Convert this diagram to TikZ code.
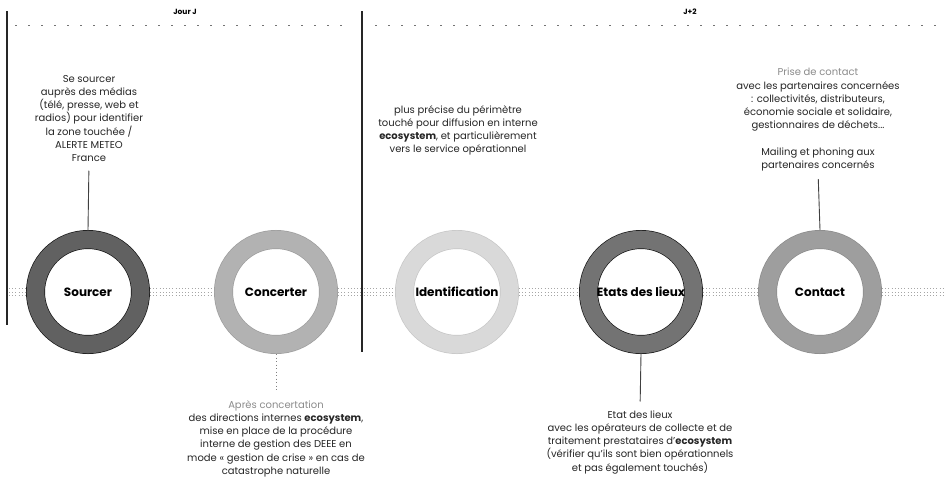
\documentclass[tikz,border=0pt]{standalone}
\usepackage{fontspec}
\setmainfont{Poppins}
\begin{document}
\begin{tikzpicture}[x=1pt,y=-1pt,
  ring/.style={circle, minimum size=105pt, inner sep=0pt, outer sep=9.5pt,
    line width=0.7pt, double distance=17.6pt, font=\fontsize{12}{14}\selectfont\bfseries},
  desc/.style={align=center, inner sep=0pt, font=\fontsize{10}{13.2}\selectfont, text=black!85},
  conn/.style={draw=black!75, line width=0.9pt},
  dconn/.style={draw=black!50, line width=0.9pt, dash pattern=on 1pt off 2.5pt},
  flow/.style={draw=black!35, line width=1pt, dash pattern=on 1pt off 2.2pt},
  vline/.style={draw=black!85, line width=1.2pt},
  topdots/.style={draw=black!55, line width=0.7pt, dash pattern=on 2pt off 11pt},
  daytitle/.style={font=\fontsize{7.5}{8}\selectfont\bfseries, inner sep=0pt},
  soft/.style={text=black!45}
]
\useasboundingbox (0,0) rectangle (950,479);
\fill[white] (0,0) rectangle (950,479);

% day headers
\node[daytitle] (jourj) at (185,12) {Jour J};
\node[daytitle] (j2) at (690,12) {J+2};
\draw[topdots] (15,25) -- (345,25);
\draw[topdots] (375,25) -- (945,25);

% separators
\draw[vline] (7,11) -- (7,325);
\draw[vline] (362,11) -- (362,352);

% rings
\node[ring, draw=black!90, double=black!62] (sourcer) at (88,292) {Sourcer};
\node[ring, draw=black!38, double=black!30] (concerter) at (276,292) {Concerter};
\node[ring, draw=black!22, double=black!15] (ident) at (457,292) {Identification};
\node[ring, draw=black!90, double=black!55] (etats) at (641,292) {Etats des lieux};
\node[ring, draw=black!45, double=black!38] (contact) at (820,292) {Contact};

% flow between rings
\coordinate (fstart) at (9,292);
\coordinate (fend) at (945,292);
\foreach \s in {-3.5,0,3.5}{
  \begin{scope}[transform canvas={yshift=\s pt}]
    \draw[flow] (fstart) -- (sourcer);
    \draw[flow] (sourcer) -- (concerter);
    \draw[flow] (concerter) -- (ident);
    \draw[flow] (ident) -- (etats);
    \draw[flow] (etats) -- (contact);
    \draw[flow] (contact) -- (fend);
  \end{scope}
}

% texts
\node[desc, anchor=north] (srctxt) at (89,75) {Se sourcer\\auprès des médias\\(télé, presse, web et\\radios) pour identifier\\la zone touchée /\\ALERTE METEO\\France};

\node[desc, anchor=south] (contxt) at (276,477) {{\color{black!45}Après concertation}\\des directions internes \textbf{ecosystem},\\mise en place de la procédure\\interne de gestion des DEEE en\\mode «~gestion de crise~» en cas de\\catastrophe naturelle};

\node[desc, anchor=north] (idtxt) at (458,105) {plus précise du périmètre\\touché pour diffusion en interne\\\textbf{ecosystem}, et particulièrement\\vers le service opérationnel};

\node[desc, anchor=south] (ettxt) at (640,474) {Etat des lieux\\avec les opérateurs de collecte et de\\traitement prestataires d’\textbf{ecosystem}\\(vérifier qu’ils sont bien opérationnels\\et pas également touchés)};

\node[desc, anchor=north] (cttxt) at (818,68) {{\color{black!45}Prise de contact}\\avec les partenaires concernées\\: collectivités, distributeurs,\\économie sociale et solidaire,\\gestionnaires de déchets...\\[13.2pt]Mailing et phoning aux\\partenaires concernés};

% connectors
\draw[conn, shorten <=9pt] (srctxt.south) -- (sourcer.north);
\draw[dconn, shorten >=10pt] (concerter.south) -- (contxt.north);
\draw[conn, shorten >=9pt] (etats.south) -- (ettxt.north);
\draw[conn, shorten <=8pt] (cttxt.south) -- (contact.north);
\end{tikzpicture}
\end{document}
